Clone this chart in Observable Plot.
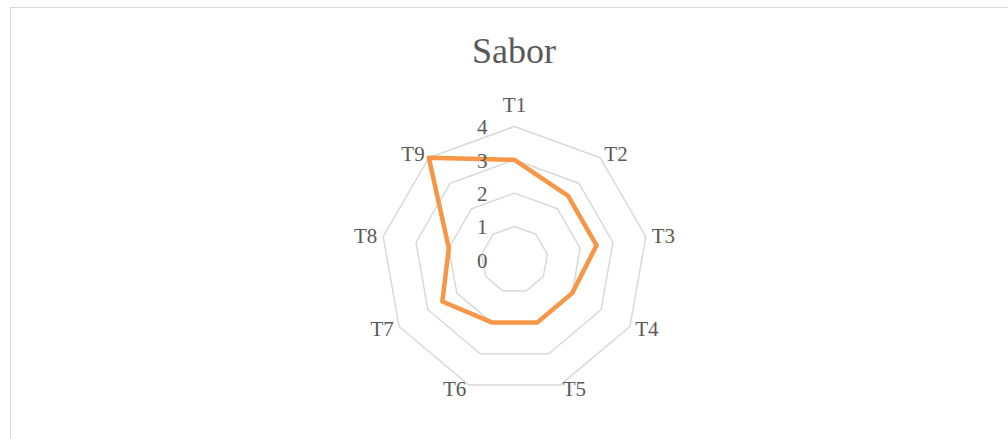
<!DOCTYPE html>
<html>
<head>
<meta charset="utf-8">
<script src="https://cdn.jsdelivr.net/npm/d3@7"></script>
<script src="https://cdn.jsdelivr.net/npm/@observablehq/plot@0.6"></script>
<style>
  html, body { margin: 0; padding: 0; background: #fff; overflow: hidden; }
  #wrap { position: relative; width: 1008px; height: 439px; overflow: hidden; }
  #frame { position: absolute; left: 10px; top: 7px; width: 1100px; height: 600px; border: 1.5px solid #d9d9d9; box-sizing: border-box; }
  #chart { position: absolute; left: 0; top: 0; }
</style>
</head>
<body>
<div id="wrap">
  <div id="frame"></div>
  <div id="title" style="position:absolute; left:0; top:33px; width:1028px; text-align:center; font-family:'Liberation Serif',serif; font-size:36px; line-height:36px; color:#595959; font-weight:normal;">Sabor</div>
  <div id="chart"></div>
</div>
<script>
const categories = ["T1", "T2", "T3", "T4", "T5", "T6", "T7", "T8", "T9"];
const values = [3, 2.5, 2.5, 2, 2, 2, 2.5, 2, 4];
const tickValues = [0, 1, 2, 3, 4];
const ringLevels = [1, 2, 3, 4];
const maxValue = 4;

const n = categories.length;
const ang = i => 2 * Math.PI * i / n;

const rings = [];
for (const level of ringLevels) {
  for (let i = 0; i <= n; i++) {
    const a = ang(i % n);
    rings.push({level, x: level * Math.sin(a), y: level * Math.cos(a)});
  }
}

const series = [];
for (let i = 0; i <= n; i++) {
  const k = i % n;
  const a = ang(k);
  series.push({cat: categories[k], x: values[k] * Math.sin(a), y: values[k] * Math.cos(a)});
}

const labelR = maxValue * 1.037;
const labels = categories.map((c, i) => {
  const a = ang(i);
  const s = Math.sin(a);
  return {c, x: labelR * s, y: labelR * Math.cos(a), side: Math.abs(s) < 1e-6 ? "mid" : (s > 0 ? "right" : "left")};
});

const font = "'Liberation Serif', serif";
const cx = 514, cy = 259.3, unit = 33.33;

const plot = Plot.plot({
  width: 1008,
  height: 439,
  margin: 0,
  style: {background: "transparent", overflow: "visible"},
  x: {axis: null, domain: [-maxValue, maxValue], range: [cx - unit * maxValue, cx + unit * maxValue]},
  y: {axis: null, domain: [-maxValue, maxValue], range: [cy + unit * maxValue, cy - unit * maxValue]},
  marks: [
    Plot.line(rings, {x: "x", y: "y", z: "level", stroke: "#d9d9d9", strokeWidth: 1.5}),
    Plot.line(series, {x: "x", y: "y", stroke: "#F79646", strokeWidth: 4.5, strokeLinejoin: "round", strokeLinecap: "round"}),
    Plot.text(tickValues, {x: () => 0, y: d => d, text: d => String(d), textAnchor: "end", dx: -27, dy: 1, fill: "#595959", fontSize: 21, fontFamily: font}),
    Plot.text(labels.filter(d => d.side === "right"), {x: "x", y: "y", text: "c", textAnchor: "start", dx: 1, fill: "#595959", fontSize: 21, fontFamily: font}),
    Plot.text(labels.filter(d => d.side === "left"), {x: "x", y: "y", text: "c", textAnchor: "end", dx: -1, fill: "#595959", fontSize: 21, fontFamily: font}),
    Plot.text(labels.filter(d => d.side === "mid"), {x: "x", y: "y", text: "c", textAnchor: "middle", dy: -16, fill: "#595959", fontSize: 21, fontFamily: font})
  ]
});
document.getElementById("chart").appendChild(plot);
</script>
</body>
</html>
